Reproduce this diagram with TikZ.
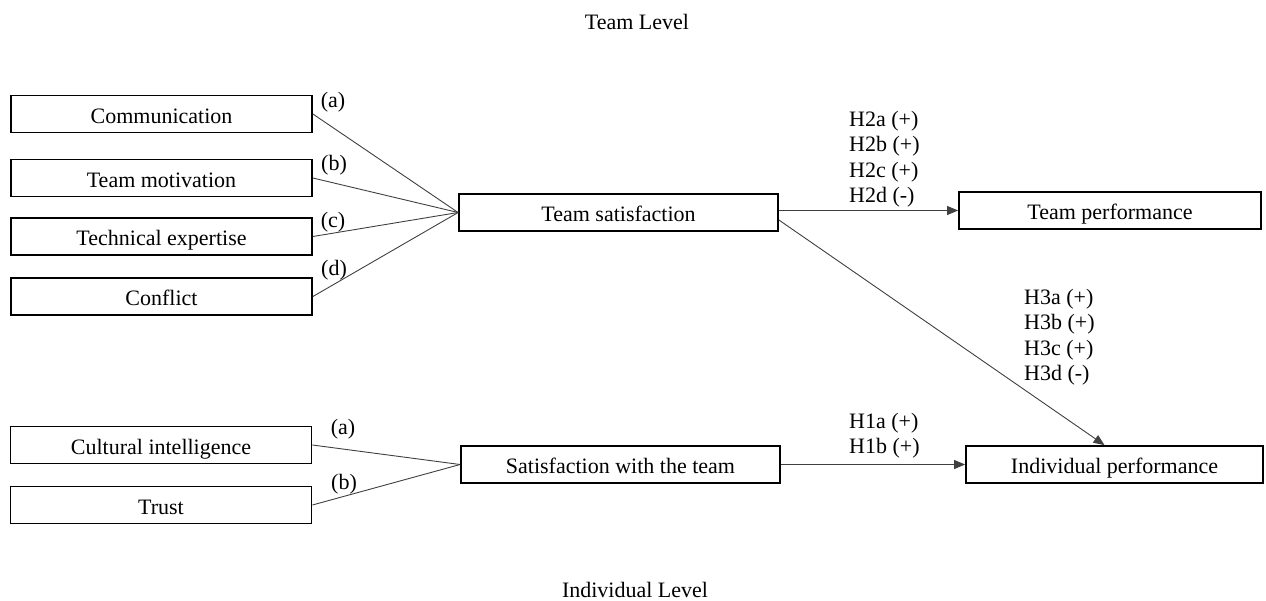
\documentclass[tikz,border=0pt]{standalone}
\usepackage{fontspec}
\setmainfont{Liberation Serif}
\usetikzlibrary{arrows.meta,calc}
\begin{document}
\begin{tikzpicture}[x=1pt,y=-1pt,
  box/.style={draw=black,line width=1.8pt,inner sep=0pt,minimum height=37pt,text height=18pt,text depth=0pt,font=\fontsize{22}{25}\selectfont},
  lbl/.style={inner sep=0pt,anchor=base west,font=\fontsize{22}{25}\selectfont},
  conn/.style={draw=black!75,line width=0.9pt},
  arr/.style={conn,-{Triangle[length=11pt,width=9pt]}}]
\useasboundingbox (0,0) rectangle (1266,600);
\node[lbl,anchor=base] (tl) at (637,29) {Team Level};
\node[lbl,anchor=base] (il) at (635,597) {Individual Level};
% left boxes
\node[box,minimum width=301pt] (comm) at (161.5,114) {Communication};
\node[box,minimum width=301pt] (motiv) at (161.5,178) {Team motivation};
\node[box,minimum width=301pt] (tech) at (161.5,236.5) {Technical expertise};
\node[box,minimum width=301pt] (confl) at (161.5,296.5) {Conflict};
\node[box,minimum width=301pt] (cult) at (161,445) {Cultural intelligence};
\node[box,minimum width=301pt] (trust) at (161,505) {Trust};
% middle
\node[box,minimum width=319pt] (tsat) at (618.5,212.5) {Team satisfaction};
\node[box,minimum width=319pt] (swt) at (620.5,464.5) {Satisfaction with the team};
% right
\node[box,minimum width=302pt] (tperf) at (1110,210.5) {Team performance};
\node[box,minimum width=297pt] (iperf) at (1114.5,464.5) {Individual performance};
% connectors
\draw[conn] (comm.east) -- (tsat.west);
\draw[conn] (motiv.east) -- (tsat.west);
\draw[conn] (tech.east) -- (tsat.west);
\draw[conn] (confl.east) -- (tsat.west);
\draw[conn] (cult.east) -- (swt.west);
\draw[conn] (trust.east) -- (swt.west);
\draw[arr] (tsat.east |- tperf.west) -- (tperf.west);
\draw[arr] ($(tsat.east)+(0,7.5)$) -- ($(iperf.north)+(-10,0)$);
\draw[arr] (swt.east) -- (iperf.west);
% path letters
\node[lbl,anchor=center] (la) at (333,102) {(a)};
\node[lbl,anchor=center] (lb) at (334,165) {(b)};
\node[lbl,anchor=center] (lc) at (333,222) {(c)};
\node[lbl,anchor=center] (ld) at (334,270) {(d)};
\node[lbl,anchor=center] (la2) at (343,429) {(a)};
\node[lbl,anchor=center] (lb2) at (344,484) {(b)};
% hypotheses
\node[lbl] (h2a) at (849,126) {H2a (+)};
\node[lbl] (h2b) at (849,151.5) {H2b (+)};
\node[lbl] (h2c) at (849,177) {H2c (+)};
\node[lbl] (h2d) at (849,202.5) {H2d (-)};
\node[lbl] (h3a) at (1024,304) {H3a (+)};
\node[lbl] (h3b) at (1024,329.5) {H3b (+)};
\node[lbl] (h3c) at (1024,355) {H3c (+)};
\node[lbl] (h3d) at (1024,380.5) {H3d (-)};
\node[lbl] (h1a) at (849,428) {H1a (+)};
\node[lbl] (h1b) at (849,453.5) {H1b (+)};
\end{tikzpicture}
\end{document}
